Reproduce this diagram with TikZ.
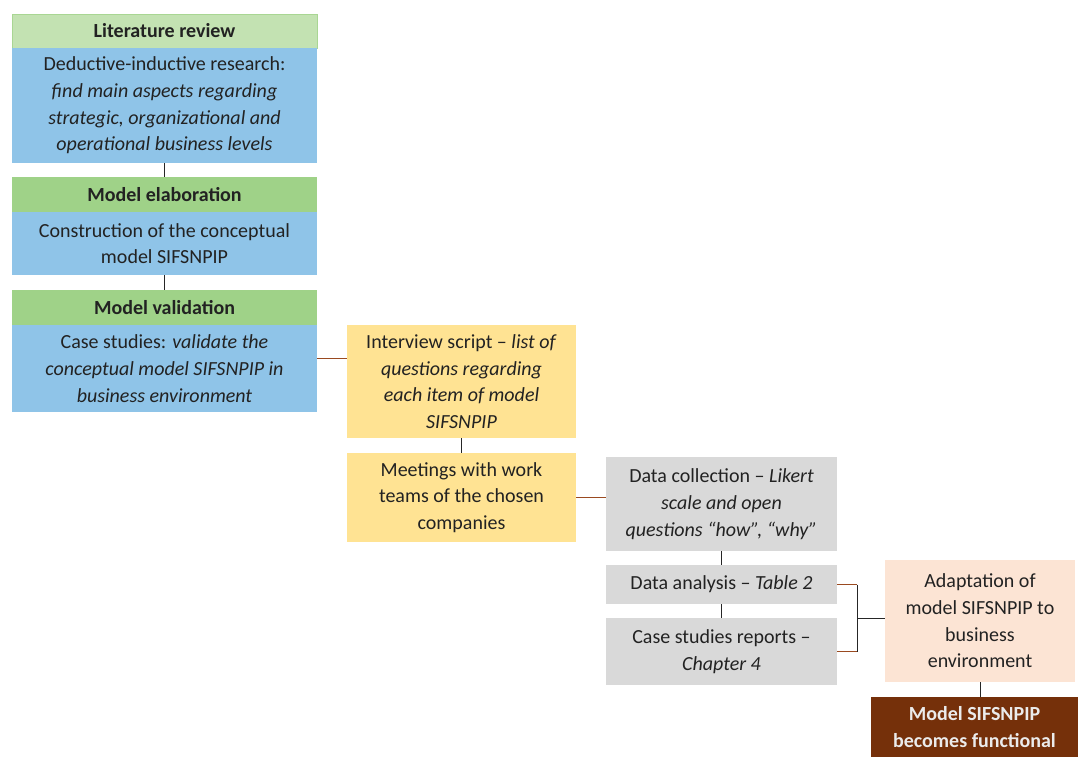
\documentclass[tikz,border=0pt]{standalone}
\usepackage{fontspec}
\setmainfont{Carlito}
\usetikzlibrary{calc}
\definecolor{lgreen}{HTML}{C3E2B2}
\definecolor{lgreenb}{HTML}{A9D693}
\definecolor{hgreen}{HTML}{9FD288}
\definecolor{lblue}{HTML}{8FC4E8}
\definecolor{lyellow}{HTML}{FFE393}
\definecolor{lgray}{HTML}{D9D9D9}
\definecolor{lpeach}{HTML}{FCE4D4}
\definecolor{dbrown}{HTML}{75300A}
\definecolor{lbrown}{HTML}{9A4A20}
\definecolor{txt}{HTML}{222222}
\tikzset{
  box/.style={inner sep=0pt, outer sep=0pt, align=center, text=txt,
    font=\fontsize{20}{26.7}\selectfont},
  hdr/.style={box, fill=hgreen, font=\fontsize{20}{26.7}\selectfont\bfseries},
  conn/.style={line width=1pt, black!85},
  bconn/.style={line width=1pt, lbrown},
}
\begin{document}
\begin{tikzpicture}[x=1pt,y=-1pt]
\useasboundingbox[fill=white] (0,0) rectangle (1078,757);
% left column
\node[hdr, fill=lgreen, draw=lgreenb, line width=0.8pt, minimum width=305, minimum height=34] (lit) at (164.5,31) {Literature review};
\node[box, fill=lblue, minimum width=305, minimum height=115] (b1) at (164.5,105.5)
 {Deductive-inductive research:\\ \itshape find main aspects regarding\\ \itshape strategic, organizational and\\ \itshape operational business levels};
\node[hdr, minimum width=305, minimum height=35] (me) at (164.5,194.5) {Model elaboration};
\node[box, fill=lblue, minimum width=305, minimum height=63] (b2) at (164.5,243.5)
 {Construction of the conceptual\\ model SIFSNPIP};
\node[hdr, minimum width=305, minimum height=35] (mv) at (164.5,307.5) {Model validation};
\node[box, fill=lblue, minimum width=305, minimum height=87] (b3) at (164.5,368.5)
 {Case studies: \textit{validate the}\\ \itshape conceptual model SIFSNPIP in\\ \itshape business environment};
% yellow
\node[box, fill=lyellow, minimum width=229, minimum height=113] (y1) at (461.5,381.5)
 {Interview script -- \textit{list of}\\ \itshape questions regarding\\ \itshape each item of model\\ \itshape SIFSNPIP};
\node[box, fill=lyellow, minimum width=229, minimum height=89] (y2) at (461.5,497.5)
 {Meetings with work\\ teams of the chosen\\ companies};
% gray
\node[box, fill=lgray, minimum width=231, minimum height=94] (g1) at (721.5,504)
 {Data collection -- \textit{Likert}\\ \itshape scale and open\\ \itshape questions “how”, “why”};
\node[box, fill=lgray, minimum width=231, minimum height=39] (g2) at (721.5,584.5)
 {Data analysis -- \textit{Table 2}};
\node[box, fill=lgray, minimum width=231, minimum height=67] (g3) at (721.5,651.5)
 {Case studies reports --\\ \itshape Chapter 4};
% right
\node[box, fill=lpeach, minimum width=190, minimum height=122] (pe) at (980,621)
 {Adaptation of\\ model SIFSNPIP to\\ business\\ environment};
\node[box, fill=dbrown, text=white!92!black, minimum width=207, minimum height=60] (fn) at (974.5,727)
 {\bfseries Model SIFSNPIP\\ \bfseries becomes functional};
% connectors
\draw[conn] (b1.south) -- (me.north);
\draw[conn] (b2.south) -- (mv.north);
\draw[bconn] (b3.east |- 0,358) -- (y1.west |- 0,358);
\draw[conn] (y1.south) -- (y2.north);
\draw[bconn] (y2.east) -- (g1.west |- y2.east);
\draw[conn] (g1.south) -- (g2.north);
\draw[conn] (g2.south) -- (g3.north);
\draw[bconn] (g2.east) -- ++(20,0) coordinate (k1);
\draw[bconn] (g3.east) -- ++(20,0) coordinate (k2);
\draw[conn] (k1) -- (k2);
\coordinate (km) at ($(k1)!0.5!(k2)$);
\draw[conn] (km) -- (pe.west |- km);
\draw[conn] (pe.south) -- (pe.south |- fn.north);
\end{tikzpicture}
\end{document}
